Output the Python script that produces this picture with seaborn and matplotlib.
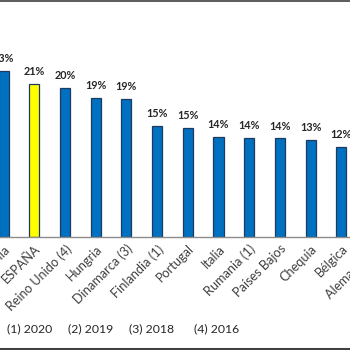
import matplotlib
matplotlib.use("Agg")
import matplotlib.pyplot as plt
import seaborn as sns
import pandas as pd
from matplotlib.lines import Line2D

# Data
categories = ["Estonia", "ESPAÑA", "Reino Unido (4)", "Hungria", "Dinamarca (3)",
              "Finlandia (1)", "Portugal", "Italia", "Rumania (1)", "Países Bajos",
              "Chequia", "Bélgica", "Alemania (2)"]
values = [22.7, 21.0, 20.4, 19.1, 18.9, 15.2, 15.0, 13.7, 13.6, 13.5, 13.3, 12.3, 11.9]
value_labels = ["23%", "21%", "20%", "19%", "19%", "15%", "15%", "14%", "14%", "14%", "13%", "12%", "12%"]
footnotes = ["(1) 2020", "(2) 2019", "(3) 2018", "(4) 2016"]

BLUE = "#0070C0"
YELLOW = "#FFFF00"
colors = [YELLOW if c == "ESPAÑA" else BLUE for c in categories]

sns.set_style("white")
plt.rcParams["font.family"] = ["Lato", "DejaVu Sans"]

W = H = 350
fig = plt.figure(figsize=(3.5, 3.5), dpi=100)
fig.patch.set_facecolor("white")

spacing = 30.7
first_center = 3.6
n = len(categories)
left_px = first_center - 0.5 * spacing
width_px = n * spacing
base_px = 237
ytop = 30
px_per = 7.3
ax = fig.add_axes([left_px / W, (H - base_px) / H, width_px / W, ytop * px_per / H])

df = pd.DataFrame({"cat": categories, "val": values})
sns.barplot(data=df, x="cat", y="val", hue="cat", palette=colors, legend=False,
            width=0.33, edgecolor="#1F3A60", linewidth=0.9, ax=ax, saturation=1)

ax.set_xlim(-0.5, n - 0.5)
ax.set_ylim(0, ytop)
ax.set_xlabel("")
ax.set_ylabel("")
ax.set_yticks([])
for s in ["top", "left", "right"]:
    ax.spines[s].set_visible(False)
ax.spines["bottom"].set_color("#8C8C8C")
ax.spines["bottom"].set_linewidth(1.0)
ax.tick_params(axis="x", length=0, pad=4)
ax.set_xticks(range(n))
ax.set_xticklabels(categories, rotation=45, ha="right", rotation_mode="anchor",
                   fontsize=9.2, color="#404040")

for i, (v, lab) in enumerate(zip(values, value_labels)):
    ax.annotate(lab, (i, v), xytext=(0, 5), textcoords="offset points",
                ha="center", va="bottom", fontsize=7.8, fontweight="bold",
                color="#262626")

xs = [7, 68, 129, 194]
for x, t in zip(xs, footnotes):
    fig.text(x / W, (H - 329) / H, t, ha="left", va="center", fontsize=8.8,
             color="#262626")

fig.add_artist(Line2D([0, 1], [1 - 0.5 / H, 1 - 0.5 / H], transform=fig.transFigure,
                      color="#404040", linewidth=1.2))
fig.add_artist(Line2D([0, 1], [1.5 / H, 1.5 / H], transform=fig.transFigure,
                      color="#404040", linewidth=2.2))

fig.savefig("out.png", dpi=100, facecolor="white")
